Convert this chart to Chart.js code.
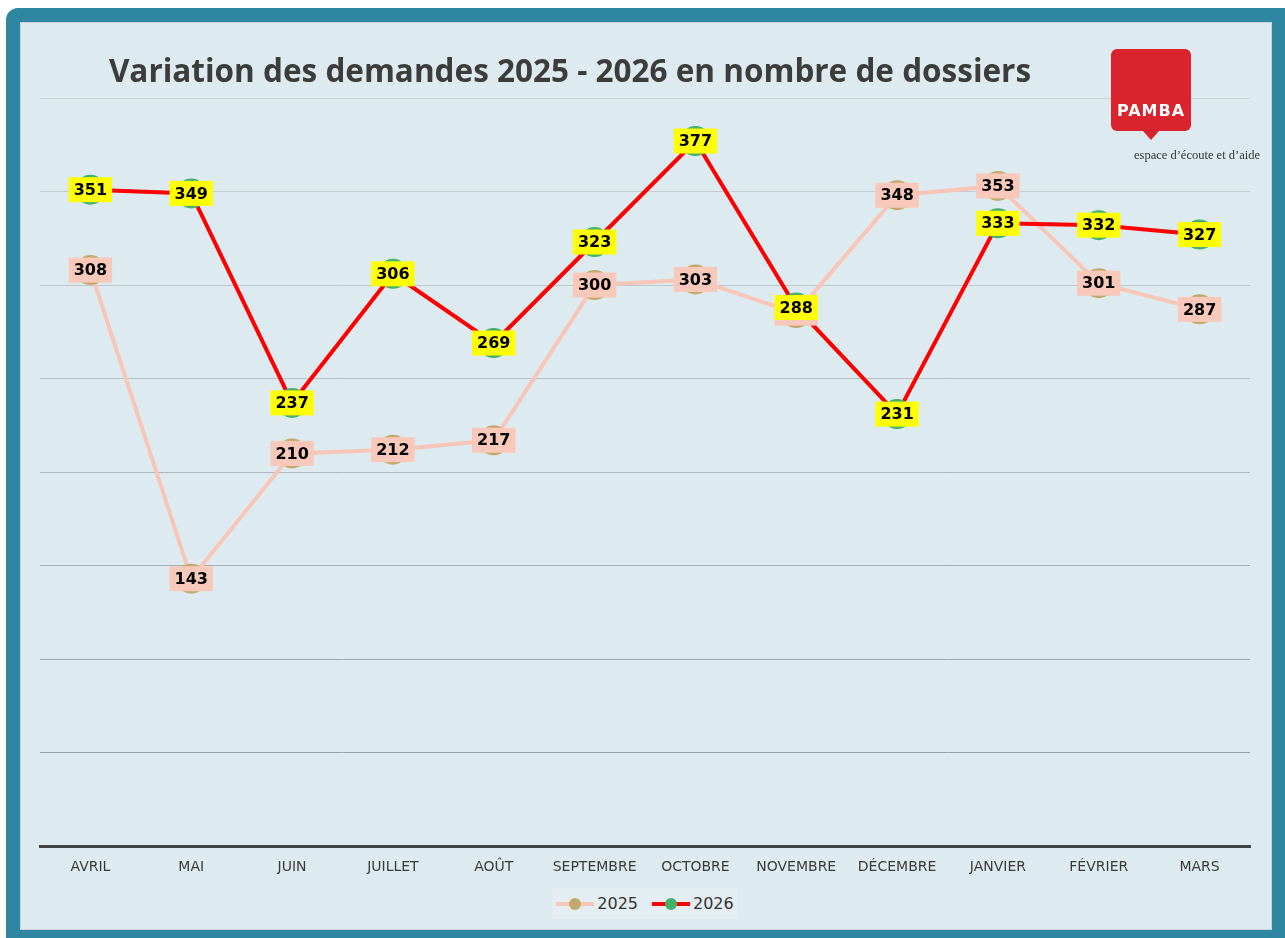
<!DOCTYPE html>
<html>
<head>
<meta charset="utf-8">
<script src="https://cdn.jsdelivr.net/npm/chart.js@4"></script>
<style>
  body { margin: 0; background: #fff; width: 1285px; height: 938px; overflow: hidden; position: relative; }
  #frame { position: absolute; left: 6px; top: 8px; width: 1279px; height: 930px; background: #2e86a0; border-radius: 12px 0 0 0; }
  #panel { position: absolute; left: 20px; top: 22px; width: 1250px; height: 906px; background: #ddebf0; border: 1px solid #c6d3d8; }
  #chartBox { position: absolute; left: 0; top: 0; width: 1250px; height: 906px; }
  #title { position: absolute; left: 0; top: 25px; width: 1098px; text-align: center; font: bold 31.5px "Open Sans", sans-serif; color: #3c3c3c; }
  #logo { position: absolute; left: 1090px; top: 26px; width: 80px; height: 82px; background: #d9232d; border-radius: 6px; }
  #logo:after { content: ""; position: absolute; left: 32px; top: 82px; border-left: 8px solid transparent; border-right: 8px solid transparent; border-top: 9px solid #d9232d; }
  #logo span { position: absolute; left: 0; width: 80px; top: 52px; text-align: center; color: #fff; font: bold 16px "DejaVu Sans", sans-serif; letter-spacing: 1px; }
  #tagline { position: absolute; left: 1113px; top: 125px; font: 12.5px "Liberation Serif", serif; color: #333; white-space: nowrap; }
  #legend { position: absolute; left: 531px; top: 865px; width: 186px; height: 31px; background: #e4eef2; display: flex; align-items: center; justify-content: center; gap: 14px; font: 16px "DejaVu Sans", sans-serif; color: #333; }
  .item { display: flex; align-items: center; }
  .swatch { position: relative; width: 38px; height: 4px; margin-right: 3px; }
  .swatch i { position: absolute; left: 13px; top: -4px; width: 12px; height: 12px; border-radius: 50%; }
</style>
</head>
<body>
<div id="frame"></div>
<div id="panel">
  <div id="chartBox"><canvas id="lineChart" width="1250" height="906"></canvas></div>
  <div id="title">Variation des demandes 2025 - 2026 en nombre de dossiers</div>
  <div id="logo"><span>PAMBA</span></div>
  <div id="tagline">espace d’écoute et d’aide</div>
  <div id="legend">
    <div class="item"><div class="swatch" style="background:#f7c6b8"><i style="background:#c3aa6c"></i></div>2025</div>
    <div class="item"><div class="swatch" style="background:#ff0000"><i style="background:#44b06c"></i></div>2026</div>
  </div>
</div>
<script>
const months = ["AVRIL", "MAI", "JUIN", "JUILLET", "AOÛT", "SEPTEMBRE", "OCTOBRE", "NOVEMBRE", "DÉCEMBRE", "JANVIER", "FÉVRIER", "MARS"];
const values2025 = [308, 143, 210, 212, 217, 300, 303, 285, 348, 353, 301, 287];
const values2026 = [351, 349, 237, 306, 269, 323, 377, 288, 231, 333, 332, 327];
const yTicks = [0, 50, 100, 150, 200, 250, 300, 350, 400];

// boxed value labels, drawn 2025 first so 2026 stays on top
const valueLabels = {
    id: "valueLabels",
    afterDatasetsDraw(chart) {
        const ctx = chart.ctx;
        ctx.save();
        ctx.font = "bold 16px 'DejaVu Sans', sans-serif";
        ctx.textAlign = "center";
        ctx.textBaseline = "middle";
        chart.data.datasets.forEach((ds, i) => {
            const meta = chart.getDatasetMeta(i);
            meta.data.forEach((pt, j) => {
                const txt = String(ds.data[j]);
                const w = ctx.measureText(txt).width + 10;
                const h = 25;
                ctx.fillStyle = ds.labelBg;
                ctx.fillRect(pt.x - w / 2, pt.y - h / 2, w, h);
                ctx.fillStyle = "#000";
                ctx.fillText(txt, pt.x, pt.y + 1);
            });
        });
        ctx.restore();
    }
};

function gridColor(c) {
    const v = c.tick.value;
    if (v === 0) return "rgba(0,0,0,0)";
    const t = v / 400;
    const a = Math.round(140 + t * 65), b = Math.round(156 + t * 56), d = Math.round(163 + t * 53);
    return "rgb(" + a + "," + b + "," + d + ")";
}

new Chart(document.getElementById("lineChart"), {
    type: "line",
    data: {
        labels: months,
        datasets: [{
            label: "2025",
            data: values2025,
            borderColor: "#f7c6b8",
            backgroundColor: "#c3aa6c",
            pointBackgroundColor: "#c3aa6c",
            pointBorderColor: "#c3aa6c",
            borderWidth: 4,
            pointRadius: 13,
            tension: 0,
            order: 2,
            labelBg: "#f8c8bb"
        }, {
            label: "2026",
            data: values2026,
            borderColor: "#ff0000",
            backgroundColor: "#44b06c",
            pointBackgroundColor: "#44b06c",
            pointBorderColor: "#44b06c",
            borderWidth: 4,
            pointRadius: 13,
            tension: 0,
            order: 1,
            labelBg: "#ffff00"
        }]
    },
    options: {
        responsive: false,
        animation: false,
        events: [],
        layout: { padding: { left: 19, right: 21, top: 75, bottom: 48 } },
        plugins: { legend: { display: false }, tooltip: { enabled: false } },
        scales: {
            x: {
                offset: true,
                grid: { display: false },
                border: { display: true, color: "#3f4446", width: 3 },
                ticks: { color: "#3a3a3a", padding: 5, font: { family: "DejaVu Sans", size: 14 } }
            },
            y: {
                min: yTicks[0],
                max: yTicks[yTicks.length - 1],
                afterBuildTicks(axis) { axis.ticks = yTicks.map(v => ({ value: v })); },
                ticks: { display: false },
                border: { display: false },
                grid: { color: gridColor, lineWidth: 1, drawTicks: false }
            }
        }
    },
    plugins: [valueLabels]
});
</script>
</body>
</html>
